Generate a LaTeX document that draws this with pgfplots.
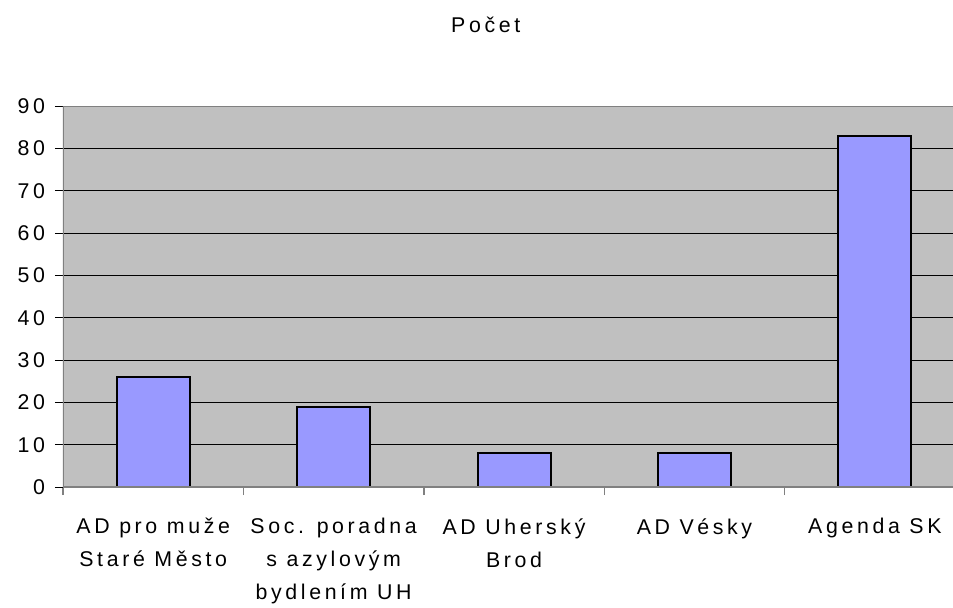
\documentclass[border=0pt]{standalone}
\usepackage{pgfplots}
\pgfplotsset{compat=1.18}
\usepackage{fontspec}
\setmainfont{Liberation Sans}[LetterSpace=17]
\definecolor{bg}{RGB}{192,192,192}
\definecolor{barc}{RGB}{153,153,255}
\definecolor{axg}{RGB}{128,128,128}
\begin{document}
\begin{tikzpicture}
\useasboundingbox (-47.25pt,-90pt) rectangle (667.5pt,365.25pt);
\begin{axis}[
  at={(0,0)}, anchor=south west,
  scale only axis, width=667.5pt, height=285.75pt,
  xmin=-0.5, xmax=4.433, ymin=0, ymax=90,
  ytick={0,10,...,90},
  xtick={0,1,2,3,4},
  xticklabels={{AD pro muže\\Staré Město},{Soc. poradna\\s azylovým\\bydlením UH},{AD Uherský\\Brod},{AD Vésky},{Agenda SK}},
  minor xtick={-0.5,0.5,1.5,2.5,3.5},
  axis line style={draw=none},
  axis background/.style={fill=bg},
  tick pos=left, tick align=outside,
  major tick length=6pt, minor tick length=6pt,
  major x tick style={draw=none},
  minor x tick style={draw=axg, line width=1pt},
  major y tick style={draw=black, line width=0.75pt},
  ymajorgrids, grid style={black, line width=0.75pt},
  /pgf/number format/assume math mode=true,
  tick label style={font=\fontsize{16}{24.75}\selectfont},
  x tick label style={align=center, yshift=-14pt},
  y tick label style={xshift=-4pt},
  title={Počet},
  title style={at={(0.475,1)}, anchor=base, yshift=49.5pt, font=\fontsize{16}{18}\selectfont},
  ybar, bar width=54.75pt,
]
\addplot[fill=barc, draw=black, line width=1.5pt] coordinates {(0,26) (1,19) (2,8) (3,8) (4,83)};
\draw[axg, line width=1.5pt] (rel axis cs:0,0) -- (rel axis cs:1,0);
\draw[axg, line width=1.5pt] (rel axis cs:0,1) -- (rel axis cs:1,1);
\draw[axg, line width=1.5pt] (rel axis cs:0,0) -- (rel axis cs:0,1);
\end{axis}
\end{tikzpicture}
\end{document}
